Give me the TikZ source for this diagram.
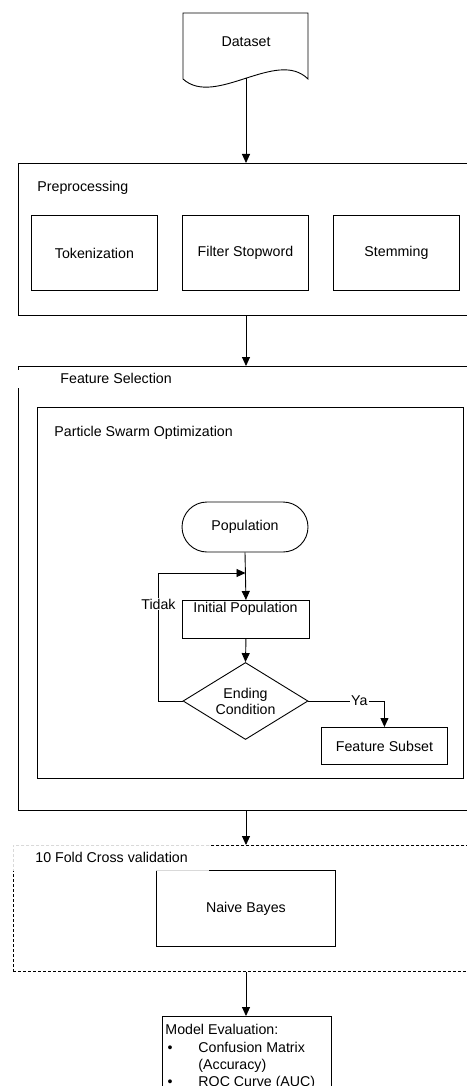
\documentclass[tikz,border=0pt]{standalone}
\usepackage{fontspec}
\setmainfont{Liberation Sans}
\usetikzlibrary{arrows.meta,shapes.geometric}
\begin{document}
\begin{tikzpicture}[x=1pt,y=-1pt,
  font=\fontsize{14.2pt}{16pt}\selectfont,
  line width=0.9pt,
  box/.style={draw, inner sep=0pt, anchor=north west},
  lbl/.style={inner sep=0pt, anchor=west},
  arr/.style={-{Triangle[width=8pt,length=9pt]}},
  tag/.style={fill=white, inner sep=1pt}]
\useasboundingbox (0,0) rectangle (466,1086);
\coordinate (ax) at (246,0);
% Dataset
\draw (183,79) -- (183,13) -- (308,13) -- (308,79) .. controls (277,48) and (215,108) .. (183,79) -- cycle;
\node (ds) at (246,42) {Dataset};
\coordinate (dsbot) at (246,78);
% Preprocessing
\node[box, minimum width=470pt, minimum height=152pt] (pre) at (18,163) {};
\node[lbl] (prelbl) at (37,188) {Preprocessing};
\node[box, minimum width=126pt, minimum height=75pt] (tok) at (31,215) {Tokenization};
\node[box, minimum width=126pt, minimum height=75pt] (fil) at (182,215) {Filter Stopword};
\node[box, minimum width=126pt, minimum height=75pt] (stem) at (333,215) {Stemming};
% Feature selection
\node[box, minimum width=470pt, minimum height=444pt] (fs) at (18,366) {};
\fill[white] (12,370) rectangle (178,388);
\node[lbl] (fslbl) at (60,378) {Feature Selection};
\node[box, minimum width=426pt, minimum height=371pt] (pso) at (37,407) {};
\node[lbl] (psolbl) at (54,433) {Particle Swarm Optimization};
\node[draw, rounded corners=25pt, minimum width=126pt, minimum height=50pt, inner sep=0pt] (pop) at (245,527) {Population};
\node[box, minimum width=127pt, minimum height=38pt] (init) at (182,600) {};
\node[inner sep=0pt] (inittxt) at (245.5,609) {Initial Population};
\node[draw, diamond, minimum width=125pt, minimum height=77pt, inner sep=0pt] (cond) at (245.5,701) {};
\node[align=center, inner sep=0pt] (condtxt) at (245.5,701) {Ending\\Condition};
\node[box, minimum width=126pt, minimum height=37pt] (fsub) at (321,727) {Feature Subset};
\coordinate (merge) at (245.5,573);
\draw[arr] (pop.south) -- (init.north);
\draw[arr] (init.south) -- (cond.north);
\draw[arr] (cond.west) -- ++(-24,0) |- (merge);
\node[tag] (tidak) at (158.5,604) {Tidak};
\draw[arr] (cond.east) -- node[tag, pos=0.67] (ya) {Ya} (cond.east -| fsub.north) -- (fsub.north);
% Cross validation
\node[box, dashed, dash pattern=on 3pt off 2pt, minimum width=470pt, minimum height=126pt] (cv) at (13,845) {};
\node[box, minimum width=179pt, minimum height=76pt] (nb) at (156,870) {Naive Bayes};
\fill[white, fill opacity=0.85] (9,842.5) rectangle (209,871.3);
\node[lbl] (cvlbl) at (35,857) {10 Fold Cross validation};
% Model evaluation
\node[box, minimum width=169pt, minimum height=100pt] (me) at (162,1016) {};
\node[inner sep=0pt, anchor=base west] (me1) at (165,1034) {Model Evaluation:};
\node[inner sep=0pt, anchor=base] (bu1) at (170,1052) {•};
\node[inner sep=0pt, anchor=base west] (me2) at (198,1052) {Confusion Matrix};
\node[inner sep=0pt, anchor=base west] (me3) at (198,1069.5) {(Accuracy)};
\node[inner sep=0pt, anchor=base] (bu2) at (170,1086.5) {•};
\node[inner sep=0pt, anchor=base west] (me4) at (198,1086.5) {ROC Curve (AUC)};
% main arrows
\draw[arr] (dsbot) -- (dsbot |- pre.north);
\draw[arr] (pre.south -| ax) -- (fs.north -| ax);
\draw[arr] (fs.south -| ax) -- (cv.north -| ax);
\draw[arr] (cv.south -| ax) -- (me.north -| ax);
\end{tikzpicture}
\end{document}
